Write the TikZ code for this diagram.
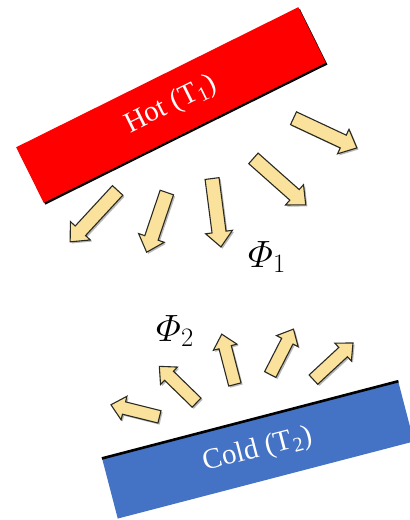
\RequirePackage{fix-cm}
\documentclass[tikz,border=0pt]{standalone}
\usepackage{amsmath}
\usepackage{fontspec}
\setmainfont{Liberation Serif}
\usetikzlibrary{shapes.arrows,shadows}
\definecolor{ink}{HTML}{2A2A22}
\definecolor{hotred}{HTML}{FF0000}
\definecolor{coldblue}{HTML}{4472C4}
\definecolor{sand}{HTML}{FAE29C}
\tikzset{
  plate/.style={minimum height=62pt, inner sep=0pt, text=white,
    font=\fontsize{29}{31}\selectfont},
  hotplate/.style={plate, fill=hotred, minimum width=315pt,
    drop shadow={fill=black, opacity=1, shadow xshift=1.6pt,
      shadow yshift=-1.8pt}},
  coldplate/.style={plate, fill=coldblue, minimum width=306pt},
  coldedge/.style={draw=black, line width=2.6pt},
  flux/.style={shape=single arrow, draw=ink, fill=sand, line width=1.1pt,
    inner xsep=0pt, inner ysep=6.5pt, anchor=tail,
    single arrow head extend=6.5pt, single arrow tip angle=84,
    drop shadow={fill=black, opacity=.28, shadow xshift=1.6pt,
      shadow yshift=-1.6pt}},
  fluxsmall/.style={flux, inner ysep=5.8pt, single arrow head extend=5.8pt},
  fluxlabel/.style={font=\fontsize{38}{40}\selectfont, inner sep=0pt}
}
\begin{document}
\begin{tikzpicture}[x=1pt,y=-1pt]
\clip (0,0) rectangle (410,520);
\fill[white] (0,0) rectangle (410,520);

% The two plates, tilted towards each other.
\node[hotplate, rotate=26.4] (hot) at (171,105) {Hot (T\textsubscript{1})};
\node[coldplate, rotate=14.6] (cold) at (258,450) {Cold (T\textsubscript{2})};
\draw[coldedge] (cold.north west) -- (cold.north east);

% Radiation leaving the hot plate.
\node[flux, minimum height=70pt, rotate=227.3] (h1) at (118,190) {};
\node[flux, minimum height=63pt, rotate=251.3] (h2) at (167,192) {};
\node[flux, minimum height=69pt, rotate=277.4] (h3) at (212,178) {};
\node[flux, minimum height=70pt, rotate=318.4] (h4) at (253,158) {};
\node[flux, minimum height=70pt, rotate=334.9] (h5) at (293,118) {};
\node[fluxlabel] (phi1) at (267,257) {$\varPhi_1$};

% Radiation leaving the cold plate.
\node[fluxsmall, minimum height=50pt, rotate=166.0] (c1) at (160,417) {};
\node[fluxsmall, minimum height=52pt, rotate=135.8] (c2) at (197,403) {};
\node[fluxsmall, minimum height=52pt, rotate=104.6] (c3) at (235,385) {};
\node[fluxsmall, minimum height=51pt, rotate=62.9] (c4) at (270,375) {};
\node[fluxsmall, minimum height=54pt, rotate=42.8] (c5) at (313,380) {};
\node[fluxlabel] (phi2) at (175,331) {$\varPhi_2$};

\end{tikzpicture}
\end{document}
